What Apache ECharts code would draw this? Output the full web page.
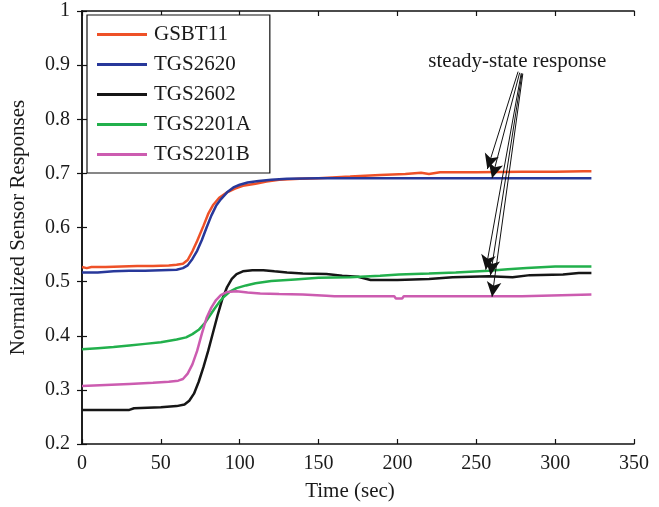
<!DOCTYPE html>
<html>
<head>
<meta charset="utf-8">
<script src="https://cdn.jsdelivr.net/npm/echarts@6/dist/echarts.min.js"></script>
<style>
html,body{margin:0;padding:0;background:#fff;}
#chart{width:659px;height:507px;}
</style>
</head>
<body>
<div id="chart"></div>
<script>
// ---- data ----
var seriesNames = ['GSBT11', 'TGS2620', 'TGS2602', 'TGS2201A', 'TGS2201B'];

var gsbt11 = [[0,0.527],[3,0.525],[6,0.527],[15,0.527],[25,0.528],[35,0.529],[45,0.529],[55,0.530],[60,0.531],[64,0.533],[67,0.540],[70,0.556],[73,0.575],[77,0.603],[80,0.625],[83,0.641],[87,0.655],[92,0.665],[97,0.672],[102,0.677],[110,0.681],[117,0.685],[125,0.688],[138,0.690],[150,0.691],[170,0.694],[189,0.697],[190,0.699],[205,0.699],[215,0.701],[220,0.699],[227,0.702],[250,0.702],[279,0.703],[300,0.703],[318,0.704],[319,0.706],[320,0.704],[323,0.704]];

var tgs2620 = [[0,0.517],[10,0.517],[11,0.519],[20,0.519],[30,0.520],[40,0.520],[50,0.521],[60,0.522],[64,0.525],[67,0.530],[70,0.542],[73,0.557],[76,0.577],[79,0.600],[82,0.622],[85,0.640],[88,0.652],[92,0.665],[96,0.674],[100,0.679],[105,0.683],[112,0.686],[120,0.688],[130,0.690],[150,0.691],[217,0.691],[218,0.688],[220,0.691],[233,0.691],[234,0.688],[235,0.691],[323,0.691]];

var tgs2602 = [[0,0.263],[30,0.263],[33,0.266],[50,0.268],[60,0.270],[65,0.273],[68,0.280],[71,0.293],[74,0.315],[77,0.342],[80,0.372],[83,0.405],[86,0.438],[89,0.468],[92,0.490],[95,0.505],[98,0.514],[102,0.519],[108,0.521],[115,0.521],[122,0.519],[130,0.517],[140,0.515],[155,0.514],[165,0.511],[175,0.509],[183,0.503],[200,0.503],[220,0.505],[235,0.508],[258,0.510],[273,0.508],[284,0.512],[305,0.513],[315,0.516],[323,0.516]];

var tgs2201a = [[0,0.375],[10,0.377],[20,0.379],[30,0.382],[40,0.385],[50,0.388],[60,0.393],[66,0.397],[70,0.403],[74,0.411],[78,0.424],[81,0.437],[84,0.450],[87,0.462],[90,0.472],[94,0.482],[98,0.488],[104,0.493],[110,0.497],[120,0.501],[135,0.504],[150,0.507],[170,0.508],[189,0.511],[201,0.513],[220,0.515],[237,0.517],[258,0.520],[270,0.523],[282,0.525],[300,0.528],[323,0.528]];

var tgs2201b = [[0,0.307],[15,0.309],[30,0.311],[45,0.313],[55,0.315],[61,0.317],[64,0.320],[67,0.330],[70,0.347],[73,0.372],[76,0.404],[79,0.433],[82,0.452],[85,0.466],[88,0.475],[92,0.481],[98,0.482],[105,0.480],[113,0.478],[125,0.477],[140,0.476],[155,0.474],[160,0.473],[198,0.473],[199,0.469],[203,0.469],[204,0.473],[279,0.473],[280,0.476],[323,0.476]];

// annotation: text anchor and arrows (start -> end in data units)
var annotationText = 'steady-state response';
var annotationPos = [276, 0.907];
var arrowStarts = [[276.5,0.888],[277.5,0.886],[278.5,0.885],[279,0.885],[279.5,0.884]];
var arrowEnds   = [[257,0.708],[260,0.691],[256,0.522],[259,0.512],[260,0.472]];

var xTicks = [0, 50, 100, 150, 200, 250, 300, 350];
var yTicks = [0.2, 0.3, 0.4, 0.5, 0.6, 0.7, 0.8, 0.9, 1];

// ---- chart ----
var colors = ['#ee5128', '#28389a', '#161616', '#22b04c', '#cc5cb0'];
var FONT = 'Liberation Serif';
var chart = echarts.init(document.getElementById('chart'), null, {renderer: 'canvas'});

var allData = [gsbt11, tgs2620, tgs2602, tgs2201a, tgs2201b];
var series = seriesNames.map(function (n, i) {
  return {
    name: n, type: 'line', data: allData[i], symbol: 'none', smooth: false,
    lineStyle: {color: colors[i], width: 2.5}, itemStyle: {color: colors[i]},
    animation: false, z: 3
  };
});
var arrowData = arrowStarts.map(function (s, i) {
  return [{coord: s}, {coord: arrowEnds[i]}];
});
series.push({
  type: 'line', data: [], silent: true, animation: false,
  markLine: {
    silent: true, animation: false,
    symbol: ['none', 'arrow'], symbolSize: [11, 15],
    lineStyle: {color: '#111', width: 1, type: 'solid'},
    label: {show: false},
    data: arrowData
  },
  markPoint: {
    silent: true, animation: false, symbol: 'circle', symbolSize: 0,
    data: [{coord: annotationPos, value: annotationText}],
    label: {show: true, position: 'inside', formatter: annotationText,
      fontFamily: FONT, fontSize: 21, color: '#1a1a1a'}
  }
});

var axisLine = {show: true, lineStyle: {color: '#111', width: 1.5}};
var tickIn = {show: true, inside: true, length: 5, lineStyle: {color: '#111', width: 1.2}};
var labelStyle = {fontFamily: FONT, fontSize: 20, color: '#1a1a1a'};

chart.setOption({
  backgroundColor: '#fff',
  animation: false,
  grid: {left: 82, right: 25, top: 11, bottom: 62, containLabel: false},
  legend: {
    data: seriesNames.map(function (n) { return {name: n, icon: 'rect'}; }),
    orient: 'vertical', left: 87, top: 15,
    backgroundColor: '#fff', borderColor: '#111', borderWidth: 1.2,
    padding: [9, 19, 8, 10], itemWidth: 50, itemHeight: 3, itemGap: 9,
    textStyle: {fontFamily: FONT, fontSize: 21, color: '#1a1a1a', lineHeight: 21, padding: [0, 0, 0, 2]}
  },
  xAxis: [{
    type: 'value', min: 0, max: 350, interval: 50, position: 'bottom',
    axisLine: axisLine, axisTick: tickIn, splitLine: {show: false},
    axisLabel: Object.assign({margin: 10, formatter: function (v) { return String(v); }}, labelStyle),
    name: 'Time (sec)', nameLocation: 'middle', nameGap: 37,
    nameTextStyle: {fontFamily: FONT, fontSize: 21, color: '#1a1a1a', padding: [0, 16, 0, 0]}
  }, {
    type: 'value', min: 0, max: 350, interval: 50, position: 'top',
    axisLine: axisLine, axisTick: tickIn, splitLine: {show: false}, axisLabel: {show: false}
  }],
  yAxis: [{
    type: 'value', min: 0.2, max: 1, interval: 0.1, position: 'left',
    axisLine: axisLine, axisTick: tickIn, splitLine: {show: false},
    axisLabel: Object.assign({margin: 12, formatter: function (v) { return String(Math.round(v * 10) / 10); }}, labelStyle),
    name: 'Normalized Sensor Responses', nameLocation: 'middle', nameGap: 45,
    nameTextStyle: {fontFamily: FONT, fontSize: 21, color: '#1a1a1a', padding: [0, 0, 8, 0]}
  }, {
    type: 'value', min: 0.2, max: 1, interval: 0.1, position: 'right',
    axisLine: axisLine, axisTick: tickIn, splitLine: {show: false}, axisLabel: {show: false}
  }],
  series: series
});
</script>
</body>
</html>
